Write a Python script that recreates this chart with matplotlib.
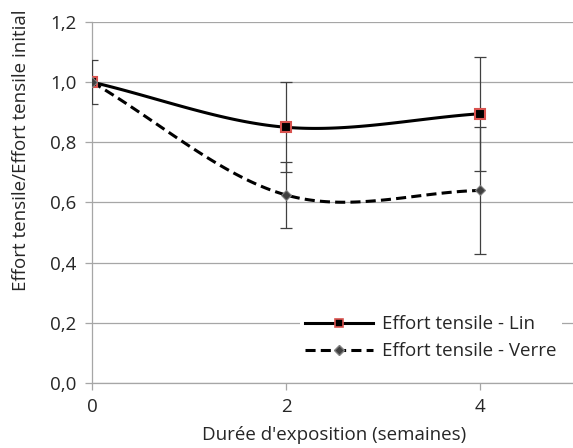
import numpy as np
import matplotlib
matplotlib.use("Agg")
import matplotlib.pyplot as plt

weeks = [0, 2, 4]
lin = [1.0, 0.85, 0.895]
lin_err = [0.072, 0.15, 0.19]
verre = [1.0, 0.625, 0.64]
verre_err = [0.0, 0.11, 0.21]


# smooth line through the points, like the "smoothed line" option in a spreadsheet
def smooth(xs, ys, n=60):
    xs = np.asarray(xs, float)
    ys = np.asarray(ys, float)
    px = np.concatenate([[2 * xs[0] - xs[1]], xs, [2 * xs[-1] - xs[-2]]])
    py = np.concatenate([[2 * ys[0] - ys[1]], ys, [2 * ys[-1] - ys[-2]]])
    outx, outy = [], []
    for i in range(1, len(px) - 2):
        t = np.linspace(0, 1, n)
        p0, p1, p2, p3 = px[i - 1:i + 3]
        q0, q1, q2, q3 = py[i - 1:i + 3]
        b1x, b1y = p1 + (p2 - p0) / 6, q1 + (q2 - q0) / 6
        b2x, b2y = p2 - (p3 - p1) / 6, q2 - (q3 - q1) / 6
        outx.append((1 - t) ** 3 * p1 + 3 * (1 - t) ** 2 * t * b1x + 3 * (1 - t) * t ** 2 * b2x + t ** 3 * p2)
        outy.append((1 - t) ** 3 * q1 + 3 * (1 - t) ** 2 * t * b1y + 3 * (1 - t) * t ** 2 * b2y + t ** 3 * q2)
    return np.concatenate(outx), np.concatenate(outy)


plt.rcParams['font.family'] = ['Open Sans', 'DejaVu Sans']
fs = 13.5
txt = '#262626'
fig = plt.figure(figsize=(5.73, 4.48), dpi=100)
ax = fig.add_axes([0.1606, 0.145, 1.007 - 0.1606, 0.951 - 0.145])

ax.errorbar(weeks, lin, yerr=lin_err, fmt='none', ecolor='#404040', elinewidth=0.9, capsize=4, capthick=0.9, zorder=3)
ax.errorbar(weeks[1:], verre[1:], yerr=verre_err[1:], fmt='none', ecolor='#404040', elinewidth=0.9, capsize=4, capthick=0.9, zorder=3)

dash = (0, (3.3, 1.7))
sx, sy = smooth(weeks, lin)
ax.plot(sx, sy, color='black', lw=2.2, zorder=4)
ax.plot(weeks, lin, ls='none', marker='s', ms=7, mfc='black', mec='#d9534f', mew=1.5, zorder=5)
sx, sy = smooth(weeks, verre)
ax.plot(sx, sy, color='black', lw=2.2, ls=dash, zorder=4)
ax.plot(weeks, verre, ls='none', marker='D', ms=5, mfc='#404040', mec='#808080', mew=0.8, zorder=6)

h1, = ax.plot([], [], color='black', lw=2.2, marker='s', ms=6, mfc='black', mec='#d9534f', mew=1.2)
h2, = ax.plot([], [], color='black', lw=2.2, ls=dash, marker='D', ms=5, mfc='#404040', mec='#808080')
leg = ax.legend([h1, h2], ['Effort tensile - Lin', 'Effort tensile - Verre'], loc='lower right',
                bbox_to_anchor=(0.989, 0.021), frameon=True, fancybox=False, handlelength=3.6,
                fontsize=fs, borderpad=0.3, labelspacing=0.5, handletextpad=0.5)
leg.get_frame().set_edgecolor('none')
leg.get_frame().set_facecolor('white')
leg.get_frame().set_alpha(1)
leg.set_zorder(10)
for t in leg.get_texts():
    t.set_color(txt)

ax.set_xlim(0, 5)
ax.set_ylim(0, 1.2)
ax.set_xticks(weeks)
ax.set_yticks(np.arange(0, 1.21, 0.2))
ax.set_yticklabels(['0,0', '0,2', '0,4', '0,6', '0,8', '1,0', '1,2'])
ax.grid(axis='y', color='#a6a6a6', lw=0.9)
ax.set_axisbelow(True)
for s in ['top', 'right']:
    ax.spines[s].set_visible(False)
for s in ['left', 'bottom']:
    ax.spines[s].set_color('#a6a6a6')
    ax.spines[s].set_linewidth(0.9)
ax.tick_params(colors='#a6a6a6', labelcolor=txt, labelsize=fs, length=5, width=0.9)
ax.tick_params(axis='x', pad=6)
ax.tick_params(axis='y', pad=6)
ax.set_xlabel("Durée d'exposition (semaines)", fontsize=fs, color=txt, labelpad=0)
ax.xaxis.set_label_coords(0.5, -0.12)
ax.set_ylabel("Effort tensile/Effort tensile initial", fontsize=fs, color=txt, labelpad=6)
ax.yaxis.set_label_coords(-0.128, 0.645)

fig.savefig('out.png', dpi=100)
